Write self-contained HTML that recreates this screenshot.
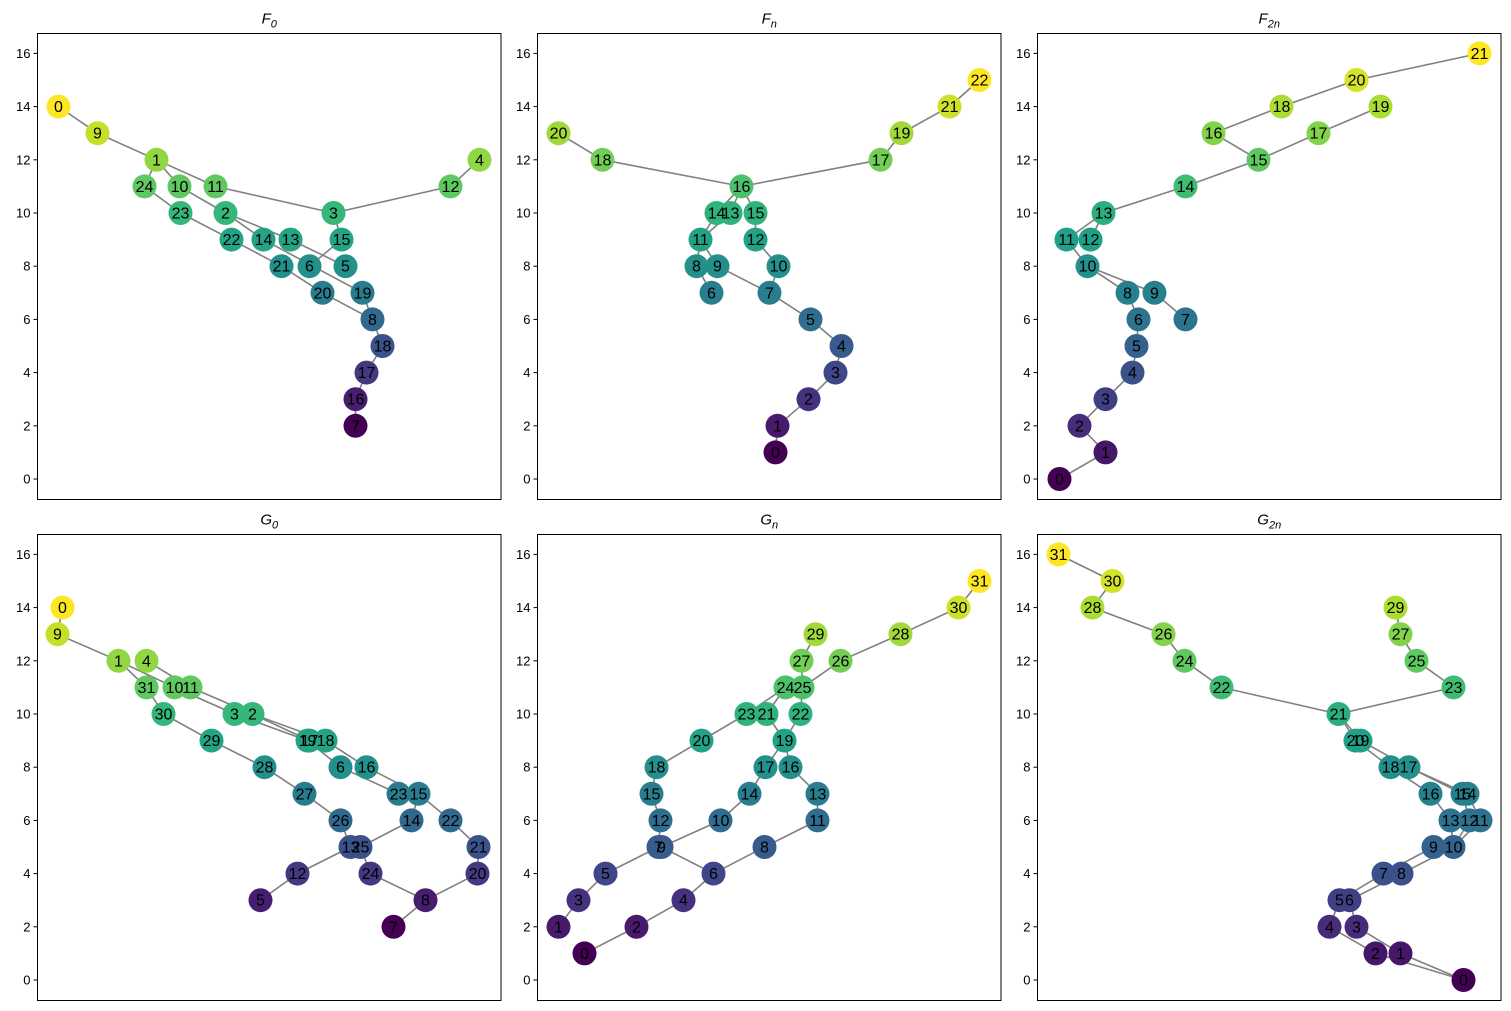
<!DOCTYPE html>
<html><head><meta charset="utf-8"><style>
html,body{margin:0;padding:0;background:#fff;}
svg{display:block;font-family:"Liberation Sans","DejaVu Sans",sans-serif;}
</style></head><body>
<svg id="fig" width="1511" height="1011" viewBox="0 0 1511 1011"></svg>
<script>
// Panel F0
const f0Labels=[0,9,1,24,10,11,4,12,3,23,2,22,14,13,15,21,6,5,20,19,8,18,17,16,7];
const f0X=[21,60,119,107,142,178,442,413,296,143,188,194,226,253,304,244,272,308,285,325,335,345,329,318,318];
const f0Y=[14,13,12,11,11,11,12,11,10,10,10,9,9,9,9,8,8,8,7,7,6,5,4,3,2];
const f0Edges=[[0,9],[9,1],[1,24],[1,10],[1,11],[11,3],[3,12],[12,4],[3,15],[15,6],[24,23],[23,22],[22,21],[21,20],[20,8],[10,2],[2,14],[2,13],[13,5],[14,19],[19,8],[8,18],[18,17],[17,16],[16,7]];
// Panel Fn
const fnLabels=[20,18,16,17,19,21,22,14,13,15,11,12,8,9,10,6,7,5,4,3,2,1,0];
const fnX=[21,65,204,343,364,412,442,179,193,218,163,218,159,180,241,174,232,273,304,298,271,240,238];
const fnY=[13,12,11,12,13,14,15,10,10,10,9,9,8,8,8,7,7,6,5,4,3,2,1];
const fnEdges=[[20,18],[18,16],[16,17],[17,19],[19,21],[21,22],[16,14],[16,13],[16,15],[14,11],[13,11],[11,9],[11,8],[8,6],[9,7],[15,12],[12,10],[10,7],[7,5],[5,4],[4,3],[3,2],[2,1],[1,0]];
// Panel F2n
const f2Labels=[21,20,18,19,16,17,15,14,13,11,12,10,8,9,6,7,5,4,3,2,1,0];
const f2X=[442,319,244,343,176,281,221,148,66,29,53,50,90,117,101,148,99,95,68,42,68,22];
const f2Y=[16,15,14,14,13,13,12,11,10,9,9,8,7,7,6,6,5,4,3,2,1,0];
const f2Edges=[[21,20],[20,18],[18,16],[16,15],[15,17],[17,19],[15,14],[14,13],[13,11],[13,12],[11,10],[10,8],[10,9],[9,7],[8,6],[6,5],[5,4],[4,3],[3,2],[2,1],[1,0]];
// Panel G0
const g0Labels=[0,9,1,4,31,10,11,30,3,2,29,19,17,18,28,6,16,27,23,15,26,14,22,13,25,21,12,24,20,5,8,7];
const g0X=[25,20,81,109,109,137,153,126,197,215,174,270,272,288,227,303,329,267,361,381,303,374,413,313,323,441,260,333,440,223,388,356];
const g0Y=[14,13,12,12,11,11,11,10,10,10,9,9,9,9,8,8,8,7,7,7,6,6,6,5,5,5,4,4,4,3,3,2];
const g0Edges=[[0,9],[9,1],[1,31],[31,30],[1,10],[10,3],[3,19],[4,11],[11,2],[2,17],[2,18],[19,6],[18,16],[6,23],[16,15],[15,14],[15,22],[22,21],[21,20],[20,8],[8,7],[8,24],[24,25],[25,14],[13,12],[12,5],[26,13],[30,29],[29,28],[28,27],[27,26]];
// Panel Gn
const gnLabels=[31,30,29,28,27,26,24,25,23,21,22,20,19,18,17,16,15,14,13,12,10,11,7,9,8,5,6,3,4,1,2,0];
const gnX=[442,421,278,363,264,303,248,265,209,229,263,164,247,119,228,253,114,212,280,123,183,280,121,124,227,68,176,41,146,21,99,47];
const gnY=[15,14,13,13,12,12,11,11,10,10,10,9,9,8,8,8,7,7,7,6,6,6,5,5,5,4,4,3,3,2,2,1];
const gnEdges=[[31,30],[30,28],[28,26],[26,25],[29,27],[27,25],[25,22],[24,23],[24,21],[23,20],[20,18],[18,15],[15,12],[12,7],[7,5],[5,3],[3,1],[9,10],[10,14],[14,17],[17,19],[21,19],[22,19],[19,16],[16,13],[13,11],[11,8],[8,6],[9,6],[6,4],[4,2],[2,0]];
// Panel G2n
const g2Labels=[31,30,28,29,26,27,24,25,22,23,21,20,19,18,17,16,15,14,13,12,11,9,10,7,8,5,6,4,3,2,1,0];
const g2X=[21,75,55,358,126,363,147,379,184,416,301,318,323,353,371,393,425,430,413,432,443,396,416,346,364,302,312,292,319,338,363,426];
const g2Y=[16,15,14,14,13,13,12,12,11,11,10,9,9,8,8,7,7,7,6,6,6,5,5,4,4,3,3,2,2,1,1,0];
const g2Edges=[[31,30],[30,28],[28,26],[26,24],[24,22],[22,21],[21,23],[23,25],[25,27],[27,29],[21,20],[21,19],[20,18],[19,17],[18,16],[17,15],[17,14],[16,13],[15,12],[14,11],[13,10],[12,10],[11,10],[10,8],[9,7],[8,6],[7,5],[5,4],[6,3],[4,2],[3,1],[2,0],[1,0]];

const yTicks=[0,2,4,6,8,10,12,14,16];
const panels=[
 {name:'f0',title:'F',sub:'0',labels:f0Labels,xs:f0X,ys:f0Y,edges:f0Edges,left:37.5,top:33.5},
 {name:'fn',title:'F',sub:'n',labels:fnLabels,xs:fnX,ys:fnY,edges:fnEdges,left:537.5,top:33.5},
 {name:'f2n',title:'F',sub:'2n',labels:f2Labels,xs:f2X,ys:f2Y,edges:f2Edges,left:1037.5,top:33.5},
 {name:'g0',title:'G',sub:'0',labels:g0Labels,xs:g0X,ys:g0Y,edges:g0Edges,left:37.5,top:534.5},
 {name:'gn',title:'G',sub:'n',labels:gnLabels,xs:gnX,ys:gnY,edges:gnEdges,left:537.5,top:534.5},
 {name:'g2n',title:'G',sub:'2n',labels:g2Labels,xs:g2X,ys:g2Y,edges:g2Edges,left:1037.5,top:534.5}
];
const W=463.5,H=466,PX=26.6;
const vir=[[68,1,84],[72,40,120],[62,73,137],[49,104,142],[38,130,142],[31,158,137],[53,183,121],[109,205,89],[180,222,44],[253,231,37]];
function viridis(t){t=Math.max(0,Math.min(1,t));const s=t*(vir.length-1);const i=Math.min(vir.length-2,Math.floor(s));const f=s-i;
 const c=vir[i].map((v,k)=>Math.round(v+(vir[i+1][k]-v)*f));return `rgb(${c[0]},${c[1]},${c[2]})`;}
const NS='http://www.w3.org/2000/svg';
const svg=document.getElementById('fig');
function mk(tag,attrs,parent){const e=document.createElementNS(NS,tag);for(const k in attrs)e.setAttribute(k,attrs[k]);parent.appendChild(e);return e;}
panels.forEach(p=>{
 const g=mk('g',{},svg);
 
 
 const sx=v=>p.left+v;
 const sy=v=>p.top+H-20.5-v*PX;
 const frame=mk('rect',{x:p.left,y:p.top,width:W,height:H,fill:'none',stroke:'#000','stroke-width':1},g);
 
 
 const t=mk('text',{x:p.left+W/2,y:p.top-10,'text-anchor':'middle','font-size':15,'font-style':'italic'},g);
 
 
 t.textContent=p.title;
 const ts=mk('tspan',{'font-size':11,'font-style':'italic',dy:4},t);ts.textContent=p.sub;
 yTicks.forEach(v=>{
  const y=sy(v);
  const tk=mk('line',{x1:p.left-4,x2:p.left,y1:y,y2:y,stroke:'#000','stroke-width':1},g);
  
  
  const tl=mk('text',{x:p.left-7,y:y+4.5,'text-anchor':'end','font-size':13},g);
  
  
  tl.textContent=v;
 });
 const idx={};p.labels.forEach((l,i)=>idx[l]=i);
 p.edges.forEach(e=>{
  const a=idx[e[0]],b=idx[e[1]];
  const ln=mk('line',{x1:sx(p.xs[a]),y1:sy(p.ys[a]),x2:sx(p.xs[b]),y2:sy(p.ys[b]),stroke:'#808080','stroke-width':1.6},g);
  
  
 });
 const ymin=Math.min(...p.ys),ymax=Math.max(...p.ys);
 p.labels.forEach((l,i)=>{
  const c=mk('circle',{cx:sx(p.xs[i]),cy:sy(p.ys[i]),r:12,fill:viridis((p.ys[i]-ymin)/(ymax-ymin))},g);
  
  
 });
 p.labels.forEach((l,i)=>{
  const tx=mk('text',{x:sx(p.xs[i]),y:sy(p.ys[i])+5.5,'text-anchor':'middle','font-size':16},g);
  
  
  tx.textContent=l;
 });
});
</script>
</body></html>
